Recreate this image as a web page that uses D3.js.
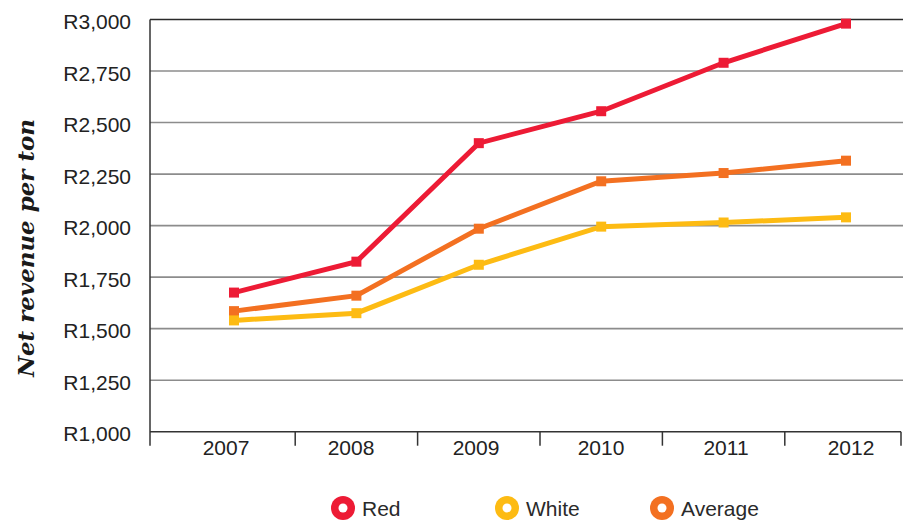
<!DOCTYPE html>
<html>
<head>
<meta charset="utf-8">
<script src="https://cdn.jsdelivr.net/npm/d3@7"></script>
<style>
  html, body { margin: 0; padding: 0; background: #fff; }
  svg { display: block; }
</style>
</head>
<body>
<svg id="chart" width="905" height="521"></svg>
<script>
// ---- data ----
const years = [2007, 2008, 2009, 2010, 2011, 2012];
const redValues = [1675, 1825, 2400, 2555, 2790, 2980];
const whiteValues = [1540, 1575, 1810, 1995, 2015, 2040];
const averageValues = [1585, 1660, 1985, 2215, 2255, 2315];
const yTicks = [1000, 1250, 1500, 1750, 2000, 2250, 2500, 2750, 3000];
const seriesNames = ["Red", "White", "Average"];
const seriesColors = ["#ED1B35", "#FDBB13", "#F37021"];
const yLabel = "Net revenue per ton";

const series = [
  { name: seriesNames[0], color: seriesColors[0], values: redValues },
  { name: seriesNames[1], color: seriesColors[1], values: whiteValues },
  { name: seriesNames[2], color: seriesColors[2], values: averageValues }
];

const svg = d3.select("#chart");
const plotLeft = 150, plotRight = 903, plotTop = 19.5, plotBottom = 431.7;

const x = d3.scaleLinear().domain([2007, 2012]).range([234, 846]);
const y = d3.scaleLinear().domain([1000, 3000]).range([plotBottom, plotTop]);

// gridlines
svg.append("g").selectAll("line")
  .data(yTicks.filter(t => t !== 1000 && t !== 3000))
  .join("line")
  .attr("x1", plotLeft).attr("x2", plotRight)
  .attr("y1", d => y(d)).attr("y2", d => y(d))
  .attr("stroke", "#8c8c8c").attr("stroke-width", 1.6);

// top border line
svg.append("line")
  .attr("x1", plotLeft).attr("x2", plotRight)
  .attr("y1", y(3000)).attr("y2", y(3000))
  .attr("stroke", "#2a2a2a").attr("stroke-width", 1.3);

// bottom axis line
svg.append("line")
  .attr("x1", plotLeft).attr("x2", 901)
  .attr("y1", y(1000)).attr("y2", y(1000))
  .attr("stroke", "#333").attr("stroke-width", 1.5);

// left axis line
svg.append("line")
  .attr("x1", plotLeft).attr("x2", plotLeft)
  .attr("y1", y(3000)).attr("y2", y(1000) + 14)
  .attr("stroke", "#333").attr("stroke-width", 1.5);

// x ticks between categories (category boundaries)
const boundaries = years.slice(0, -1).map(v => x(v + 0.5)).concat([901]);
svg.append("g").selectAll("line")
  .data(boundaries)
  .join("line")
  .attr("x1", d => d).attr("x2", d => d)
  .attr("y1", y(1000)).attr("y2", y(1000) + 14)
  .attr("stroke", "#333").attr("stroke-width", 1.5);

// x labels
svg.append("g").selectAll("text")
  .data(years)
  .join("text")
  .attr("x", d => x(d) - 8 + (d - 2007) * 2.6)
  .attr("y", 455)
  .attr("text-anchor", "middle")
  .attr("font-family", "Liberation Sans, Arial, sans-serif")
  .attr("font-size", 21)
  .attr("fill", "#222")
  .text(d => d);

// y labels
const fmt = d3.format(",");
svg.append("g").selectAll("text")
  .data(yTicks)
  .join("text")
  .attr("x", 131)
  .attr("y", d => y(d) + 9.5)
  .attr("text-anchor", "end")
  .attr("font-family", "Liberation Sans, Arial, sans-serif")
  .attr("font-size", 21)
  .attr("fill", "#222")
  .text(d => "R" + fmt(d));

// y axis title
svg.append("text")
  .attr("transform", "translate(34,248) rotate(-90)")
  .attr("text-anchor", "middle")
  .attr("font-family", "DejaVu Serif, serif")
  .attr("font-weight", "bold")
  .attr("font-style", "italic")
  .attr("font-size", 23)
  .attr("fill", "#1a1a1a")
  .attr("textLength", 258)
  .attr("lengthAdjust", "spacingAndGlyphs")
  .text(yLabel);

// lines
const line = d3.line()
  .x((d, i) => x(years[i]))
  .y(d => y(d));

const drawOrder = [series[2], series[1], series[0]];
drawOrder.forEach(s => {
  svg.append("path")
    .datum(s.values)
    .attr("d", line)
    .attr("fill", "none")
    .attr("stroke", s.color)
    .attr("stroke-width", 5)
    .attr("stroke-linejoin", "miter");
  svg.append("g").selectAll("rect")
    .data(s.values)
    .join("rect")
    .attr("x", (d, i) => x(years[i]) - 5)
    .attr("y", d => y(d) - 5)
    .attr("width", 10).attr("height", 10)
    .attr("fill", s.color);
});

// legend
const legendX = [343, 507, 662];
const legend = svg.append("g");
series.forEach((s, i) => {
  const g = legend.append("g").attr("transform", `translate(${legendX[i]},508)`);
  g.append("circle").attr("r", 12).attr("fill", s.color);
  g.append("circle").attr("r", 4.5).attr("fill", "#fff");
  g.append("text")
    .attr("x", 19)
    .attr("y", 8)
    .attr("font-family", "Liberation Sans, Arial, sans-serif")
    .attr("font-size", 21)
    .attr("fill", "#2a2a2a")
    .text(s.name);
});
</script>
</body>
</html>
